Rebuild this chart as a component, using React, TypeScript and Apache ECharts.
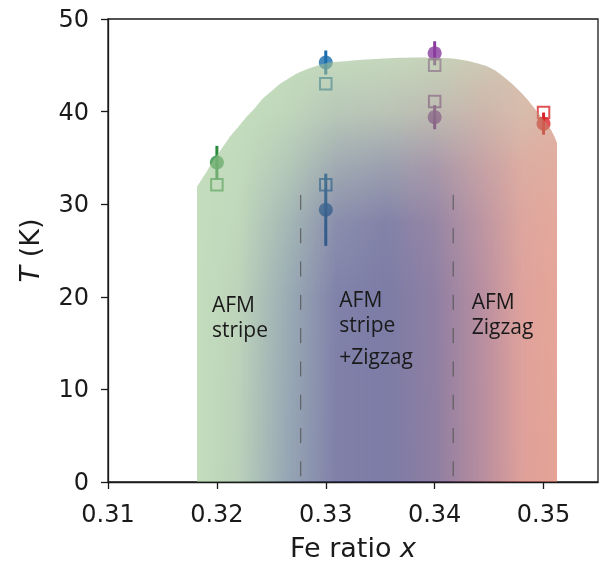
import React, { useEffect, useRef } from 'react';
import * as echarts from 'echarts';

// ---------------- data ----------------
const xTicks = [0.31, 0.32, 0.33, 0.34, 0.35];
const yTicks = [0, 10, 20, 30, 40, 50];

// filled circles with symmetric error
const circleX = [0.32, 0.33, 0.33, 0.34, 0.34, 0.35];
const circleT = [34.5, 45.3, 29.4, 46.3, 39.4, 38.7];
const circleErr = [1.8, 1.3, 3.9, 1.3, 1.3, 1.2];
const circleGroup = [0, 1, 1, 2, 2, 3];

// open squares
const squareX = [0.32, 0.33, 0.33, 0.34, 0.34, 0.35];
const squareT = [32.1, 43.0, 32.1, 45.0, 41.1, 39.9];
const squareGroup = [0, 1, 1, 2, 2, 3];

// outline of the shaded phase region (left bottom -> top -> right bottom)
const boundaryX = [0.3182, 0.3182, 0.319, 0.3197, 0.3205, 0.3212, 0.322, 0.3227, 0.3235, 0.3242, 0.325, 0.3258, 0.3266, 0.3273, 0.3281, 0.3288, 0.3296, 0.3303, 0.3318, 0.3334, 0.3349, 0.3364, 0.3384, 0.3404, 0.3415, 0.3425, 0.3433, 0.344, 0.3448, 0.3455, 0.3463, 0.3471, 0.3479, 0.3486, 0.3492, 0.3498, 0.3503, 0.3507, 0.351, 0.3512, 0.3512];
const boundaryT = [0, 31.9, 33.4, 34.8, 36.1, 37.3, 38.4, 39.4, 40.4, 41.4, 42.2, 43.0, 43.6, 44.1, 44.5, 44.8, 45.1, 45.3, 45.45, 45.6, 45.7, 45.8, 45.85, 45.8, 45.75, 45.6, 45.4, 45.2, 44.9, 44.5, 43.8, 43.0, 42.1, 41.2, 40.3, 39.4, 38.7, 38.0, 37.3, 36.6, 0];

// dashed phase boundaries
const phaseBoundaryX = [0.3277, 0.3417];
const phaseBoundaryTop = 31.0;

// region labels
const labelText = ['AFM\nstripe', 'AFM\nstripe', '+Zigzag', 'AFM\nZigzag'];
const labelX = [0.31955, 0.33124, 0.33124, 0.3434];
const labelT = [17.9, 18.45, 13.6, 18.25];

// ---------------- style ----------------
const INK = '#1a1a1a';
const GROUP_COLORS = ['#2b8c40', '#1b6dad', '#8a3c9d', '#d8262a'];
const OVERLAY_ALPHA = 0.6;

// colour field of the shaded region (appearance over white), columns in x, rows in T
const FIELD_X = [0.3182, 0.322, 0.3265, 0.331, 0.3355, 0.34, 0.3445, 0.348, 0.3512];
const FIELD_T = [46, 40, 34, 28, 20, 0];
const FIELD_RGB: number[][][] = [
  [[196, 221, 189], [196, 221, 189], [196, 221, 189], [196, 221, 189], [196, 221, 189], [196, 221, 189]],
  [[196, 221, 189], [196, 221, 189], [194, 218, 188], [192, 215, 187], [189, 211, 186], [186, 208, 186]],
  [[196, 220, 189], [192, 214, 187], [180, 200, 184], [165, 184, 181], [155, 172, 180], [150, 166, 180]],
  [[196, 218, 189], [184, 200, 184], [160, 170, 178], [138, 142, 172], [128, 130, 170], [128, 128, 168]],
  [[197, 216, 189], [186, 196, 182], [155, 160, 175], [130, 130, 168], [124, 124, 166], [124, 124, 166]],
  [[198, 211, 186], [190, 188, 178], [168, 152, 170], [150, 134, 165], [142, 127, 163], [142, 126, 162]],
  [[206, 202, 181], [205, 182, 172], [198, 162, 165], [190, 150, 162], [186, 143, 160], [185, 142, 158]],
  [[214, 192, 174], [215, 188, 172], [220, 172, 162], [221, 166, 158], [222, 162, 156], [222, 160, 154]],
  [[222, 182, 166], [222, 180, 165], [225, 172, 160], [228, 168, 155], [230, 165, 152], [230, 163, 150]],
];

const clamp = (v: number, a: number, b: number) => Math.max(a, Math.min(b, v));

function fieldColor(x: number, row: number): string {
  let j = 0;
  while (j < FIELD_X.length - 2 && x > FIELD_X[j + 1]) j++;
  const t = clamp((x - FIELD_X[j]) / (FIELD_X[j + 1] - FIELD_X[j]), 0, 1);
  const a = FIELD_RGB[j][row];
  const b = FIELD_RGB[j + 1][row];
  const under = [0, 1, 2].map((k) => {
    const obs = a[k] + (b[k] - a[k]) * t;
    return clamp(Math.round((obs - (1 - OVERLAY_ALPHA) * 255) / OVERLAY_ALPHA), 0, 255);
  });
  return `rgba(${under[0]},${under[1]},${under[2]},${OVERLAY_ALPHA})`;
}

function renderRegion(params: any, api: any) {
  const pts = boundaryX.map((x, i) => api.coord([x, boundaryT[i]]));
  const top = pts.slice(1, pts.length - 1).map((p: number[]) => [p[0], p[1]]);
  const L = Math.round(top[0][0]);
  const R = Math.round(top[top.length - 1][0]);
  top[0][0] = L;
  top[top.length - 1][0] = R;
  const yb = api.coord([boundaryX[0], 0])[1];
  const yTop = api.coord([boundaryX[0], FIELD_T[0]])[1];
  const p0 = api.coord([0.31, 0])[0];
  const p1 = api.coord([0.35, 0])[0];
  const toX = (px: number) => 0.31 + ((px - p0) / (p1 - p0)) * 0.04;
  const yAt = (px: number) => {
    for (let i = 0; i < top.length - 1; i++) {
      const a = top[i];
      const b = top[i + 1];
      if (px >= a[0] && px <= b[0]) {
        const t = b[0] === a[0] ? 0 : (px - a[0]) / (b[0] - a[0]);
        return a[1] + (b[1] - a[1]) * t;
      }
    }
    return top[top.length - 1][1];
  };
  const offsets = FIELD_T.map((T) => (api.coord([boundaryX[0], T])[1] - yTop) / (yb - yTop));
  const children: any[] = [];
  const step = 3;
  for (let xa = L; xa < R; xa += step) {
    const xb = Math.min(xa + step, R);
    const poly: number[][] = [[xa, yAt(xa)]];
    top.forEach((p: number[]) => {
      if (p[0] > xa && p[0] < xb) poly.push([p[0], p[1]]);
    });
    poly.push([xb, yAt(xb)]);
    poly.push([xb, yb]);
    poly.push([xa, yb]);
    const xc = toX((xa + xb) / 2);
    const stops = FIELD_T.map((_, r) => ({ offset: clamp(offsets[r], 0, 1), color: fieldColor(xc, r) }));
    children.push({
      type: 'polygon',
      shape: { points: poly },
      style: { fill: new echarts.graphic.LinearGradient(0, yTop, 0, yb, stops, true), stroke: null },
    });
  }
  return { type: 'group', children };
}

export default function App() {
  const ref = useRef<HTMLDivElement>(null);
  useEffect(() => {
    const chart = echarts.init(ref.current as HTMLDivElement, null, { renderer: 'svg' });
    const axisCommon = {
      type: 'value',
      splitLine: { show: false },
      axisLine: { show: true, lineStyle: { color: INK, width: 1.3 } },
      axisTick: { show: true, inside: false, length: 7, lineStyle: { color: INK, width: 1.3 } },
    };
    const titleRich = {
      n: { fontSize: 27, fontFamily: 'DejaVu Sans', color: INK },
      i: { fontSize: 27, fontFamily: 'DejaVu Sans', fontStyle: 'italic', color: INK },
    };
    const option: any = {
      animation: false,
      grid: {
        left: 108,
        right: 2,
        top: 19,
        bottom: 81,
        containLabel: false,
        outerBoundsMode: 'none',
        show: true,
        borderColor: INK,
        borderWidth: 1.3,
        backgroundColor: 'transparent',
      },
      xAxis: {
        ...axisCommon,
        min: 0.31,
        max: 0.355,
        interval: 0.01,
        axisTick: { ...axisCommon.axisTick, customValues: xTicks },
        axisLabel: {
          customValues: xTicks,
          fontSize: 24,
          fontFamily: 'DejaVu Sans',
          color: INK,
          margin: 20,
          formatter: (v: number) => v.toFixed(2),
        },
        name: '{n|Fe ratio }{i|x}',
        nameLocation: 'middle',
        nameGap: 52,
        nameTextStyle: { rich: titleRich },
      },
      yAxis: {
        ...axisCommon,
        min: 0,
        max: 50,
        interval: 10,
        axisTick: { ...axisCommon.axisTick, customValues: yTicks },
        axisLabel: {
          customValues: yTicks,
          fontSize: 24,
          fontFamily: 'DejaVu Sans',
          color: INK,
          margin: 19,
        },
        name: '{i|T}{n| (K)}',
        nameLocation: 'middle',
        nameGap: 65,
        nameTextStyle: { rich: titleRich },
      },
      series: [
        {
          type: 'custom',
          z: 2,
          silent: true,
          data: circleX.map((x, i) => [x, circleT[i] - circleErr[i], circleT[i] + circleErr[i], circleGroup[i]]),
          renderItem: (p: any, api: any) => {
            const a = api.coord([api.value(0), api.value(1)]);
            const b = api.coord([api.value(0), api.value(2)]);
            return {
              type: 'line',
              shape: { x1: a[0], y1: a[1], x2: b[0], y2: b[1] },
              style: { stroke: GROUP_COLORS[api.value(3)], lineWidth: 3 },
            };
          },
        },
        {
          type: 'scatter',
          z: 3,
          silent: true,
          symbol: 'circle',
          symbolSize: 14,
          data: circleX.map((x, i) => ({ value: [x, circleT[i]], itemStyle: { color: GROUP_COLORS[circleGroup[i]] } })),
        },
        {
          type: 'scatter',
          z: 4,
          silent: true,
          symbol: 'rect',
          symbolSize: 11.5,
          data: squareX.map((x, i) => ({
            value: [x, squareT[i]],
            itemStyle: { color: 'rgba(0,0,0,0)', borderColor: GROUP_COLORS[squareGroup[i]], borderWidth: 2 },
          })),
        },
        {
          type: 'custom',
          z: 5,
          silent: true,
          data: [[boundaryX[0], boundaryT[0]]],
          renderItem: renderRegion,
        },
        {
          type: 'custom',
          z: 6,
          silent: true,
          data: phaseBoundaryX.map((x) => [x, phaseBoundaryTop, 0]),
          renderItem: (p: any, api: any) => {
            const a = api.coord([api.value(0), api.value(1)]);
            const b = api.coord([api.value(0), api.value(2)]);
            return {
              type: 'line',
              shape: { x1: a[0], y1: a[1], x2: b[0], y2: b[1] },
              style: { stroke: '#555555', lineWidth: 1, lineDash: [15, 18.3] },
            };
          },
        },
        {
          type: 'custom',
          z: 7,
          silent: true,
          data: labelText.map((_, i) => [labelX[i], labelT[i], i]),
          renderItem: (p: any, api: any) => {
            const a = api.coord([api.value(0), api.value(1)]);
            return {
              type: 'text',
              x: a[0],
              y: a[1],
              style: {
                text: labelText[api.value(2)],
                fontSize: 21,
                lineHeight: 25,
                fontFamily: 'Open Sans',
                fill: INK,
                align: 'left',
                verticalAlign: 'middle',
              },
            };
          },
        },
      ],
    };
    chart.setOption(option);
    return () => chart.dispose();
  }, []);
  return <div ref={ref} style={{ position: 'fixed', left: 0, top: 0, width: 600, height: 563 }} />;
}
